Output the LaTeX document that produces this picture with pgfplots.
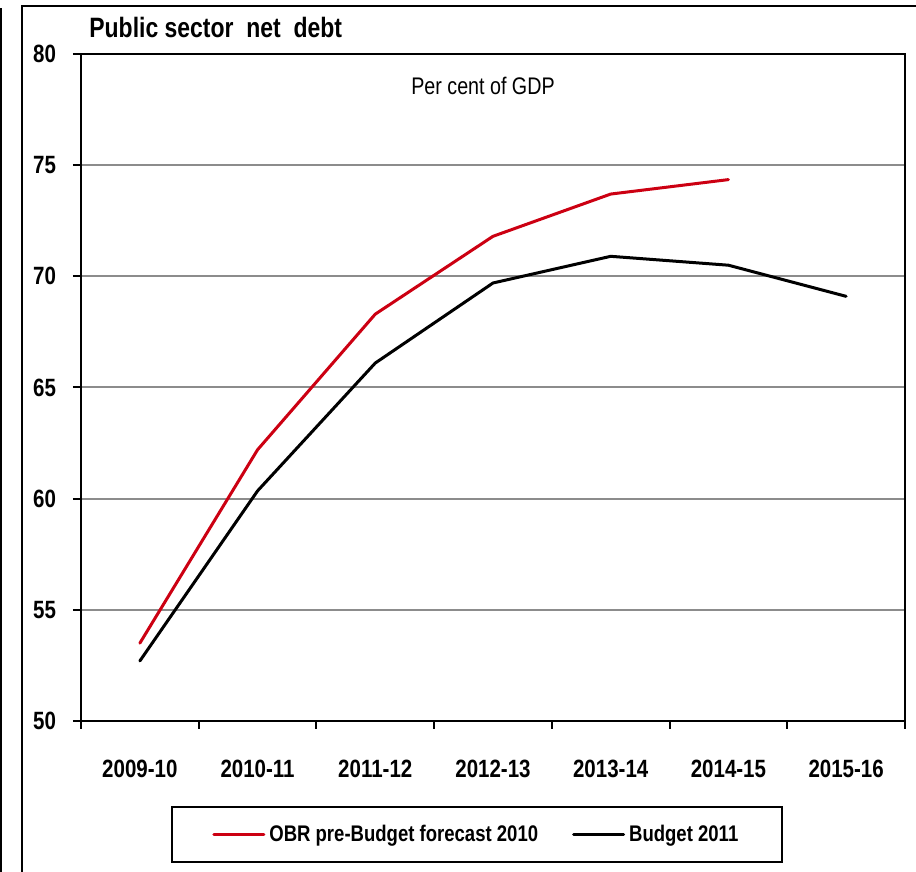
\documentclass[border=0pt]{standalone}
\usepackage{fontspec}
\setmainfont{Liberation Sans}[FakeStretch=0.82]
\usepackage{pgfplots}
\pgfplotsset{compat=1.18}
\definecolor{obrred}{RGB}{204,0,18}
\definecolor{gridgray}{RGB}{140,140,140}
\begin{document}
\begin{tikzpicture}
\useasboundingbox (0,0) rectangle (458pt,436pt);
\draw[line width=1pt] (0.5pt,0) -- (0.5pt,432pt);
\draw[line width=1pt] (11pt,0) -- (11pt,433pt) -- (458pt,433pt);
\node[anchor=west, inner sep=0pt, font=\bfseries\fontsize{14}{16}\selectfont] at (44.5pt,422pt) {Public sector\ \ net\ \ debt};
\begin{axis}[
  at={(40.5pt,75.5pt)}, anchor=south west,
  scale only axis, width=412pt, height=333.5pt,
  xmin=-0.5, xmax=6.5, ymin=50, ymax=80,
  xtick={-0.5,0.5,...,6.5}, xticklabels={},
  extra x ticks={0,1,2,3,4,5,6},
  extra x tick labels={2009-10,2010-11,2011-12,2012-13,2013-14,2014-15,2015-16},
  extra x tick style={major tick length=0pt, grid=none},
  ytick={50,55,...,80},
  xtick pos=bottom, ytick pos=left,
  tick align=outside, major tick length=4pt,
  tick style={black, line width=1pt},
  ymajorgrids, grid style={gridgray, line width=1pt},
  axis line style={line width=1.2pt},
  /pgf/number format/assume math mode=true,
  ticklabel style={font=\bfseries\fontsize{12.5}{14}\selectfont},
  yticklabel style={xshift=-5pt},
  xticklabel style={yshift=-16pt},
  legend style={at={(0.481,0)}, anchor=north, yshift=-42.5pt, draw=black, line width=1pt,
    font=\bfseries\fontsize{11.3}{13}\selectfont, inner xsep=20pt, inner ysep=7pt,
    /tikz/every even column/.append style={column sep=15pt}},
  legend columns=2,
  legend image code/.code={\draw[#1] (0pt,0pt) -- (25pt,0pt);},
]
\addplot[obrred, line width=1.5pt, line join=round, line cap=round] coordinates {
  (0,53.5) (1,62.2) (2,68.3) (3,71.8) (4,73.7) (5,74.35)};
\addlegendentry{OBR pre-Budget forecast 2010}
\addplot[black, line width=1.5pt, line join=round, line cap=round] coordinates {
  (0,52.7) (1,60.35) (2,66.1) (3,69.7) (4,70.9) (5,70.5) (6,69.1)};
\addlegendentry{Budget 2011}
\end{axis}
\node[font=\fontsize{12}{14}\selectfont] at (241.5pt,393pt) {Per cent of GDP};
\end{tikzpicture}
\end{document}
